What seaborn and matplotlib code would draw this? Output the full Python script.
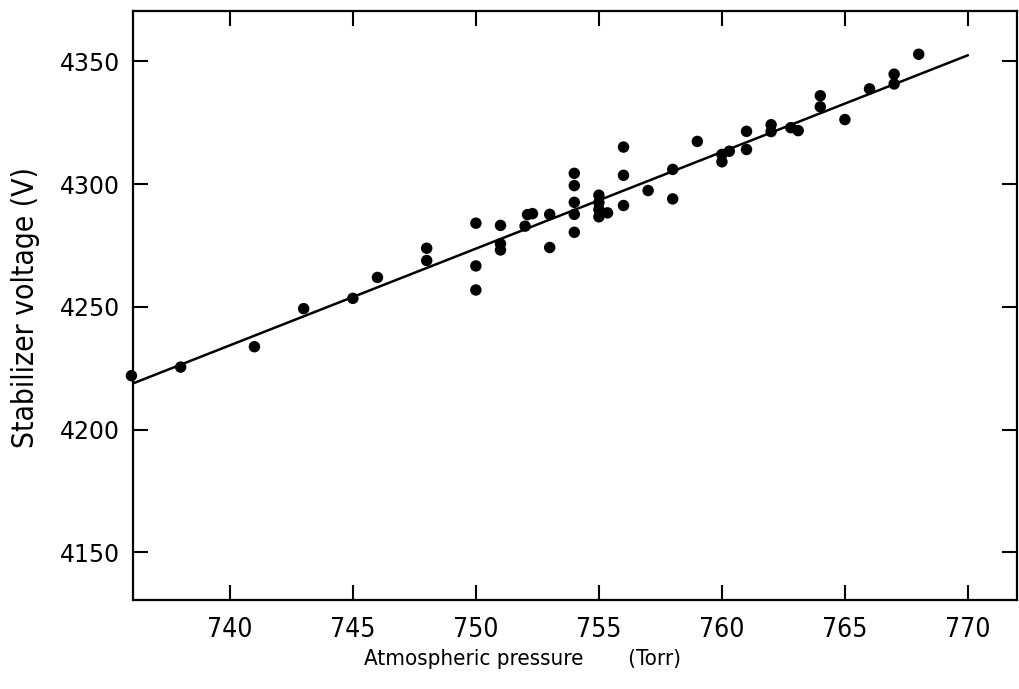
import matplotlib
matplotlib.use("Agg")
import matplotlib.pyplot as plt
import seaborn as sns

# readings from the plot: atmospheric pressure (Torr) vs stabilizer voltage (V)
pressure = [736, 738, 741, 743, 745, 746, 748, 748,
            750, 750, 750, 751, 751, 751,
            752.1, 752.3, 752, 753, 753,
            754, 754, 754, 754, 754,
            755, 755, 755, 755, 755.35,
            756, 756, 756, 757, 758, 758, 759,
            760, 760, 760.3, 761, 761, 762, 762, 762.8, 763.1,
            764, 764, 765, 766, 767, 767, 768]
voltage = [4222.0, 4225.5, 4233.8, 4249.3, 4253.5, 4262.0, 4273.9, 4268.9,
           4284.1, 4266.7, 4256.9, 4283.2, 4275.7, 4273.2,
           4287.6, 4288.0, 4282.9, 4287.7, 4274.2,
           4304.4, 4299.4, 4292.6, 4287.7, 4280.4,
           4295.5, 4292.5, 4289.7, 4286.7, 4288.3,
           4315.1, 4303.6, 4291.3, 4297.4, 4306.0, 4294.0, 4317.4,
           4309.1, 4312.1, 4313.4, 4321.5, 4314.1, 4324.2, 4321.4, 4323.0, 4321.8,
           4336.0, 4331.5, 4326.3, 4338.8, 4344.8, 4340.8, 4352.9]

# fitted straight line, end points
fit_x = [736, 770]
fit_y = [4218.6, 4352.5]

x_ticks = [740, 745, 750, 755, 760, 765, 770]
y_ticks = [4150, 4200, 4250, 4300, 4350]

sns.set_style("ticks")
plt.rcParams['font.family'] = ['DejaVu Sans']
plt.rcParams['font.stretch'] = 'condensed'
plt.rcParams['text.color'] = 'black'
plt.rcParams['axes.labelcolor'] = 'black'

fig = plt.figure(figsize=(10.19, 6.89), dpi=100)
ax = fig.add_axes([0.1302, 0.129, 0.8675, 0.855])

sns.lineplot(x=fit_x, y=fit_y, ax=ax, color='black', linewidth=1.8)
sns.scatterplot(x=pressure, y=voltage, ax=ax, color='black', s=68,
                edgecolor='none', clip_on=False, zorder=3)

ax.set_xlim(736.05, 771.98)
ax.set_ylim(4130.6, 4370.5)
ax.set_xticks(x_ticks)
ax.set_yticks(y_ticks, labels=[str(v) for v in y_ticks],
              fontstretch='normal', fontsize=17)

for side in ax.spines.values():
    side.set_linewidth(1.6)
    side.set_color('black')

ax.tick_params(direction='in', length=11, width=1.5, top=True, right=True,
               colors='black')
ax.tick_params(axis='x', labelsize=19, pad=12)
ax.tick_params(axis='y', pad=9)

ax.set_xlabel('Atmospheric pressure       (Torr)', fontsize=16)
ax.xaxis.label.set_horizontalalignment('left')
ax.xaxis.set_label_coords(0.262, -0.083)
ax.set_ylabel('Stabilizer voltage (V)', fontsize=21.5)
ax.yaxis.set_label_coords(-0.105, 0.497)

fig.savefig('out.png', dpi=100)
